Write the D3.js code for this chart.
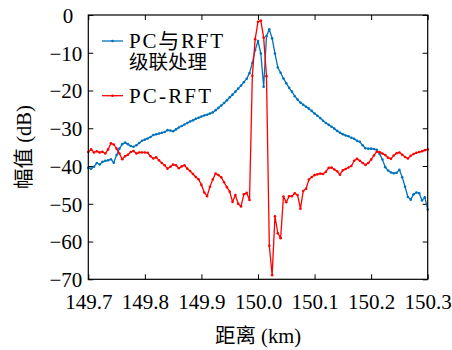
<!DOCTYPE html>
<html>
<head>
<meta charset="utf-8">
<script src="https://cdn.jsdelivr.net/npm/d3@7"></script>
<style>
  html, body { margin: 0; padding: 0; background: #fff; }
  svg { display: block; }
</style>
</head>
<body>
<svg id="chart" width="452" height="350"></svg>
<script>
// Sampling grid along the fibre: 149.7 km to 150.3 km in 5 m steps
const startKm = 149.7;
const stepKm = 0.005;

// Cascaded PC + RFT processing (dB)
const cascadeDb = [
  -40.5, -40.7, -40.2, -39.2, -39.6, -38.9, -38.6, -38.5, -38.2, -39.1,
  -37.1, -35.4, -34.2, -33.8, -34.2, -34.7, -34.9, -34.5, -33.9, -33.3,
  -33.0, -32.7, -32.3, -31.8, -31.6, -31.4, -31.2, -31.0, -30.5, -30.6,
  -30.8, -30.3, -29.8, -29.4, -29.0, -28.6, -28.2, -27.9, -27.5, -27.2,
  -26.9, -26.6, -26.4, -26.1, -25.8, -25.2, -24.6, -24.0, -23.3, -22.6,
  -21.8, -21.1, -20.3, -19.5, -18.7, -17.8, -16.9, -15.4, -12.7, -9.3,
  -6.9, -10.2, -19.0, -5.6, -3.8, -6.2, -10.2, -13.9, -15.3, -16.8,
  -18.1, -19.3, -20.3, -21.5, -22.4, -23.2, -23.8, -24.3, -24.8, -25.4,
  -26.1, -26.7, -27.3, -28.0, -28.6, -29.1, -29.6, -30.1, -30.7, -31.2,
  -31.6, -31.9, -32.1, -32.5, -32.8, -33.3, -33.6, -34.5, -35.3, -35.4,
  -35.4, -35.5, -35.7, -36.8, -38.3, -40.3, -41.2, -41.7, -41.9, -41.8,
  -41.0, -43.0, -45.5, -48.2, -48.9, -47.5, -47.0, -47.2, -49.1, -48.3,
  -51.5
];

// PC-RFT alone (dB)
const pcRftDb = [
  -36.3, -35.6, -36.4, -36.1, -36.4, -36.2, -36.7, -35.6, -34.0, -34.3,
  -35.4, -36.7, -38.2, -37.4, -37.0, -36.3, -36.0, -36.7, -36.4, -36.4,
  -36.4, -36.5, -37.4, -38.0, -37.7, -38.5, -39.2, -39.8, -40.7, -40.2,
  -39.6, -39.8, -40.6, -40.1, -39.8, -40.7, -41.3, -42.1, -42.9, -43.5,
  -45.0, -47.0, -48.0, -45.5, -43.6, -42.0, -42.4, -43.0, -44.3, -45.6,
  -46.8, -49.5, -47.7, -50.0, -50.7, -47.5, -47.1, -49.0, -16.1, -6.4,
  -1.8, -1.5, -6.0, -16.2, -61.1, -68.9, -53.3, -57.8, -59.1, -48.1,
  -49.6, -48.0, -48.0, -47.2, -47.7, -51.3, -46.6, -46.0, -43.6, -42.9,
  -42.4, -42.2, -42.0, -42.1, -41.5, -40.5, -40.4, -40.9, -41.4, -42.3,
  -41.1, -40.8, -40.4, -40.0, -38.6, -38.1, -38.6, -39.2, -39.7, -39.2,
  -38.3, -37.2, -36.2, -36.3, -36.7, -37.1, -37.8, -38.1, -37.2, -36.6,
  -36.4, -37.0, -37.6, -38.0, -37.3, -36.8, -36.5, -36.3, -36.1, -35.8,
  -35.6
];

const xTicks = [149.7, 149.8, 149.9, 150.0, 150.1, 150.2, 150.3];
const yTicks = [0, -10, -20, -30, -40, -50, -60, -70];

const seriesNames = ["PC与RFT", "PC-RFT"];
const seriesSubName = "级联处理";
const xTitle = "距离 (km)";
const yTitle = "幅值 (dB)";

const colors = ["#0072BD", "#FF0000"];
const serifStack = '"Liberation Serif", "Noto Sans CJK SC"';

const svg = d3.select("#chart");
const box = { left: 88.3, right: 427.7, top: 15, bottom: 279.3 };

const x = d3.scaleLinear().domain([149.7, 150.3]).range([box.left, box.right]);
const y = d3.scaleLinear().domain([-70, 0]).range([box.bottom, box.top]);

const km = i => startKm + i * stepKm;
const series = [cascadeDb, pcRftDb].map(vals => vals.map((v, i) => ({ d: km(i), v })));

const tickLen = 5;
const fmtX = d3.format(".1f");
const fmtY = d3.format("d");

// Axes with inward ticks on all four sides
const gx = svg.append("g").attr("transform", `translate(0,${box.bottom})`)
  .call(d3.axisBottom(x).tickValues(xTicks).tickFormat(fmtX).tickSizeInner(-tickLen).tickSizeOuter(0).tickPadding(15));
const gy = svg.append("g").attr("transform", `translate(${box.left},0)`)
  .call(d3.axisLeft(y).tickValues(yTicks).tickFormat(fmtY).tickSizeInner(-tickLen).tickSizeOuter(0).tickPadding(6));
const gt = svg.append("g").attr("transform", `translate(0,${box.top})`)
  .call(d3.axisTop(x).tickValues(xTicks).tickFormat("").tickSizeInner(-tickLen).tickSizeOuter(0));
const gr = svg.append("g").attr("transform", `translate(${box.right},0)`)
  .call(d3.axisRight(y).tickValues(yTicks).tickFormat("").tickSizeInner(-tickLen).tickSizeOuter(0));

[gx, gy, gt, gr].forEach(g => {
  g.select(".domain").remove();
  g.selectAll(".tick line").attr("stroke", "#000").attr("stroke-width", 1);
  g.selectAll(".tick text")
    .style("font-family", serifStack).style("font-size", "21px").attr("fill", "#000");
});
gy.selectAll(".tick text").attr("dy", "0.35em");
gy.selectAll(".tick text").filter(d => d === 0).attr("dx", -9);
gx.selectAll(".tick text").attr("dy", "0.71em");

// Data lines with point markers; PC-RFT drawn last so it sits on top
const line = d3.line().x(p => x(p.d)).y(p => y(p.v));
series.forEach((pts, k) => {
  const g = svg.append("g");
  g.append("path").datum(pts)
    .attr("fill", "none").attr("stroke", colors[k]).attr("stroke-width", 1.3)
    .attr("stroke-linejoin", "round").attr("d", line);
  g.selectAll("circle").data(pts).join("circle")
    .attr("cx", p => x(p.d)).attr("cy", p => y(p.v)).attr("r", 1.3)
    .attr("fill", colors[k]);
});

// Plot frame
svg.append("rect")
  .attr("x", box.left).attr("y", box.top)
  .attr("width", box.right - box.left).attr("height", box.bottom - box.top)
  .attr("fill", "none").attr("stroke", "#000").attr("stroke-width", 1.2);

function label(sel, size) {
  return sel.style("font-family", serifStack).style("font-size", size + "px").attr("fill", "#000");
}

// Legend
const legendRows = [{ yLine: 41, yText: 48 }, { yLine: 95.7, yText: 102.5 }];
legendRows.forEach((row, k) => {
  svg.append("line").attr("x1", 102).attr("x2", 123)
    .attr("y1", row.yLine).attr("y2", row.yLine)
    .attr("stroke", colors[k]).attr("stroke-width", 1.3);
  svg.append("circle").attr("cx", 112.5).attr("cy", row.yLine).attr("r", 1.3).attr("fill", colors[k]);
  label(svg.append("text"), 21).attr("x", 129).attr("y", row.yText)
    .attr("textLength", k === 0 ? 94 : 82).attr("lengthAdjust", "spacing")
    .text(seriesNames[k]);
});
label(svg.append("text"), 19.5).attr("x", 129).attr("y", 69).text(seriesSubName);

// Axis titles
label(svg.append("text"), 20.5)
  .attr("x", (box.left + box.right) / 2).attr("y", 343)
  .attr("text-anchor", "middle")
  .text(xTitle);

label(svg.append("text"), 20.5)
  .attr("transform", `translate(31,${(box.top + box.bottom) / 2}) rotate(-90)`)
  .attr("text-anchor", "middle")
  .text(yTitle);
</script>
</body>
</html>
